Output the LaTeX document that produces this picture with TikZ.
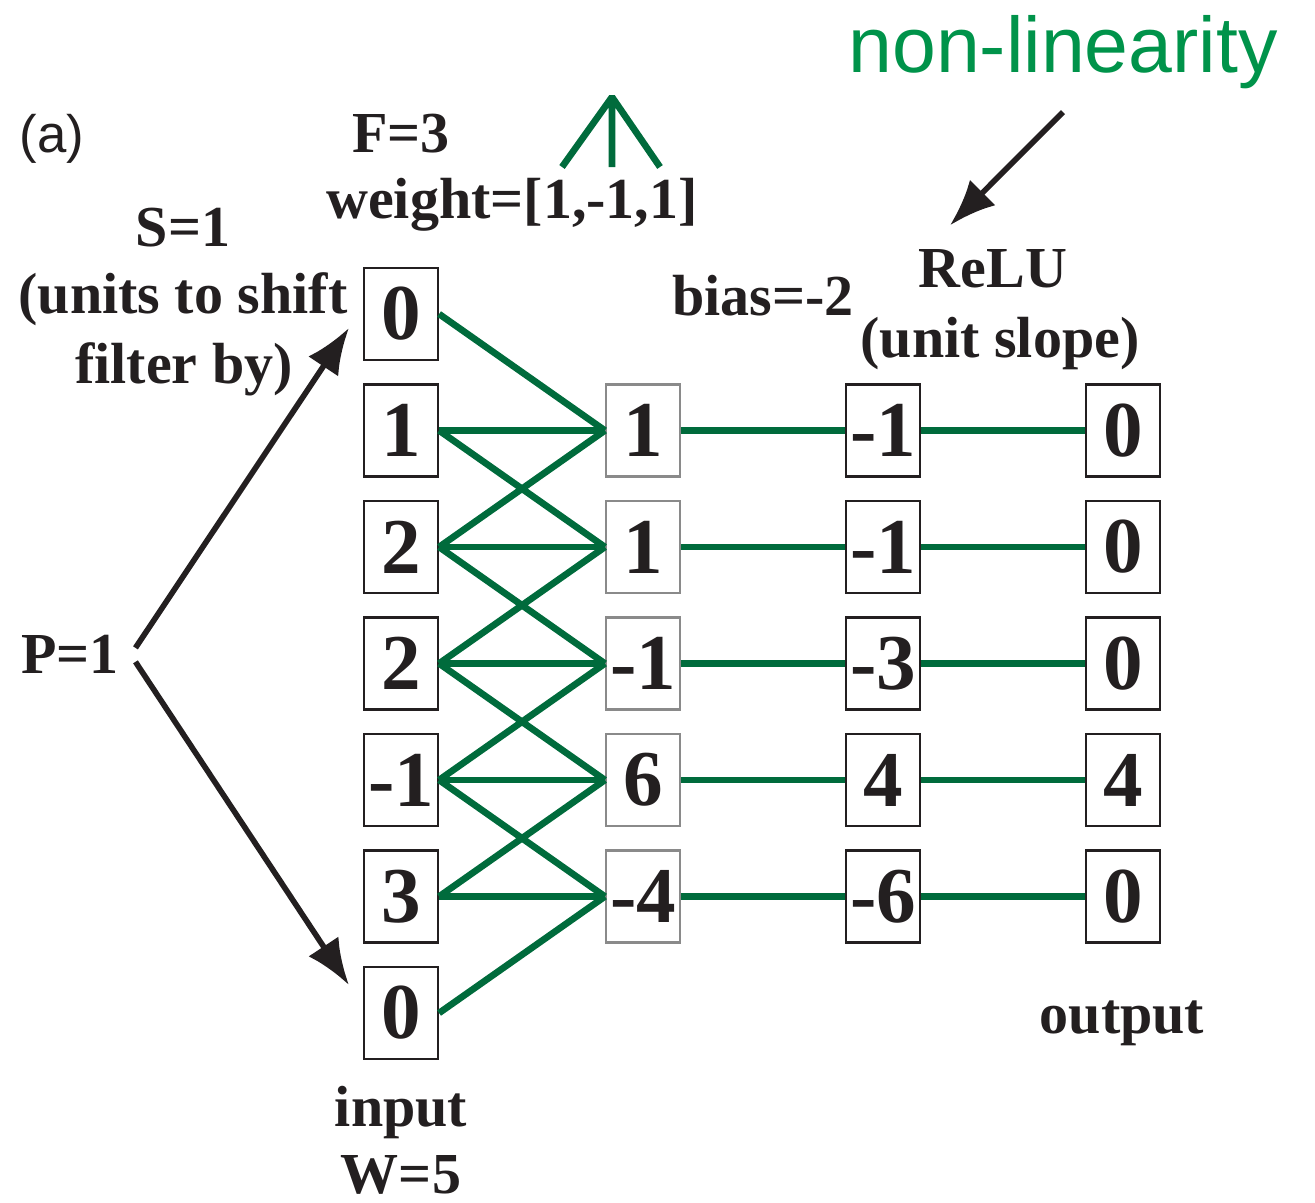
\documentclass[tikz,border=0pt]{standalone}
\usepackage{fontspec}
\setmainfont{Liberation Serif}
\newfontfamily\figsans{Liberation Sans}
\usetikzlibrary{arrows.meta}
\definecolor{WireGreen}{HTML}{006B3C}
\definecolor{TagGreen}{HTML}{00934A}
\definecolor{InkBlack}{HTML}{231F20}
\definecolor{ConvGray}{HTML}{8A8A8A}

\begin{document}
\begin{tikzpicture}[
  x=0.01cm, y=-0.01cm,
  cell/.style={draw=InkBlack, line width=0.6pt, minimum width=0.74cm, minimum height=0.92cm, inner sep=0pt, font=\fontsize{22.5}{27}\selectfont\bfseries, text=InkBlack},
  convcell/.style={cell, draw=ConvGray},
  lbl/.style={anchor=base, inner sep=0pt, font=\fontsize{16.5}{20}\selectfont\bfseries, text=InkBlack},
  wire/.style={line width=1.9pt, WireGreen},
  pointer/.style={-{Latex[length=4.6mm,width=3.6mm]}, line width=1.6pt, InkBlack}
]
\useasboundingbox (0,0) rectangle (1315,1203);

\foreach \v [count=\i from 0] in {0,1,2,2,-1,3,0}
  \node[cell] (in\i) at (401,{314+116.5*\i}) {\v};
\foreach \v [count=\i] in {1,1,-1,6,-4}
  \node[convcell] (conv\i) at (643,{314+116.5*\i}) {\v};
\foreach \v [count=\i] in {-1,-1,-3,4,-6}
  \node[cell] (bias\i) at (883,{314+116.5*\i}) {\v};
\foreach \v [count=\i] in {0,0,0,4,0}
  \node[cell] (out\i) at (1123,{314+116.5*\i}) {\v};

\foreach \i in {1,...,5}{
  \foreach \d in {-1,0,1}{
    \pgfmathtruncatemacro\j{\i+\d}
    \draw[wire] (in\j.east) -- (conv\i.west);
  }
  \draw[wire] (conv\i) -- (bias\i);
  \draw[wire] (bias\i) -- (out\i);
}

\node[lbl, font=\figsans\fontsize{15}{18}\selectfont] (tag) at (52,152) {(a)};
\node[lbl] (fsize) at (401,152) {F=3};
\node[lbl] (weights) at (512,218) {weight=[1,-1,1]};
\node[lbl] (stride) at (183,246) {S=1};
\node[lbl] (stridea) at (183,313) {(units to shift};
\node[lbl] (strideb) at (184,383) {filter by)};
\node[lbl] (pad) at (70,673) {P=1};
\node[lbl] (bias) at (763,315) {bias=-2};
\node[lbl] (relu) at (993,287) {ReLU};
\node[lbl] (slope) at (1000,357) {(unit slope)};
\node[lbl] (outlbl) at (1122,1033) {output};
\node[lbl] (inlbl) at (401,1126) {input};
\node[lbl] (width) at (401,1193) {W=5};
\node[lbl, font=\figsans\fontsize{22.4}{27}\selectfont, text=TagGreen] (nonlin) at (1063,72) {non-linearity};

\draw[wire, line join=bevel] (562,167) -- (612,97) -- (660,167) (612,97) -- (612,167);

\draw[pointer] ([shift={(16,-6)}]pad.east) -- ([shift={(-14,14)}]in0.west);
\draw[pointer] ([shift={(16,8)}]pad.east) -- ([shift={(-14,-28)}]in6.west);
\draw[pointer] ([shift={(0,23)}]nonlin.south) -- ([shift={(-43,-23)}]relu.north);
\end{tikzpicture}
\end{document}
